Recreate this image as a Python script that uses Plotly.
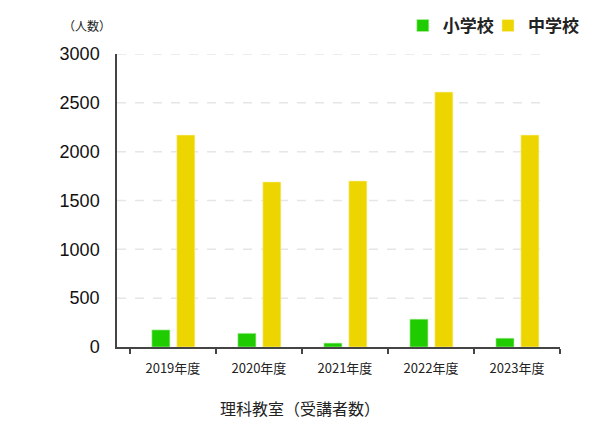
import plotly.graph_objects as go

years = ["2019年度", "2020年度", "2021年度", "2022年度", "2023年度"]
elementary = [175, 140, 40, 285, 90]
junior_high = [2170, 1690, 1700, 2610, 2170]
y_ticks = [0, 500, 1000, 1500, 2000, 2500, 3000]

FONT = "Noto Sans CJK JP"
xpos = list(range(len(years)))

fig = go.Figure()
fig.add_trace(go.Bar(
    x=xpos, y=elementary, name="小学校", marker_color="#1ecc00",
    marker_line=dict(color="#b8f0a8", width=0.6),
    width=0.21, offset=-0.245, legend="legend",
))
fig.add_trace(go.Bar(
    x=xpos, y=junior_high, name="中学校", marker_color="#edd500",
    marker_line=dict(color="#fbf2b0", width=0.6),
    width=0.21, offset=0.045, legend="legend2",
))

shapes = []
for v in y_ticks[1:]:
    shapes.append(dict(type="line", xref="paper", yref="y", x0=0, x1=0.966, y0=v, y1=v,
                       line=dict(color="#e6e6e6", width=1.5, dash="dash"), layer="below"))

legend_style = dict(orientation="h", xanchor="left", xref="container",
                    y=1.0, yanchor="top", yref="container",
                    font=dict(size=17, color="#222222", weight="bold"),
                    itemwidth=30, bgcolor="rgba(0,0,0,0)")

fig.update_layout(
    width=600, height=421,
    margin=dict(l=109, r=48, t=46, b=82, autoexpand=False),
    paper_bgcolor="white", plot_bgcolor="white",
    font=dict(family=FONT, color="#222222"),
    barmode="overlay",
    showlegend=True,
    legend=dict(x=0.658, **legend_style),
    legend2=dict(x=0.8, **legend_style),
    shapes=shapes,
    xaxis=dict(
        range=[-0.65, 4.5],
        tickmode="array", tickvals=xpos, ticktext=years,
        ticks="", showgrid=False, zeroline=False,
        showline=True, linecolor="#444444", linewidth=1.5,
        tickfont=dict(size=13, color="#222222"),
        ticklabelstandoff=9,
        minor=dict(tick0=0.5, dtick=1, ticks="outside", ticklen=5, tickcolor="#444444",
                   tickwidth=1.5, showgrid=False),
    ),
    yaxis=dict(
        range=[0, 3000],
        tickmode="array", tickvals=y_ticks,
        showgrid=False, zeroline=False, ticks="",
        showline=True, linecolor="#444444", linewidth=1.5,
        tickfont=dict(size=18, color="#111111", family="Liberation Sans"),
        ticklabelstandoff=12,
    ),
    annotations=[
        dict(text="（人数）", xref="paper", yref="paper", x=-0.01, y=1.06,
             xanchor="right", yanchor="bottom", showarrow=False,
             font=dict(size=12, color="#222222")),
        dict(text="理科教室（受講者数）", xref="paper", yref="paper", x=0.413, y=0,
             xanchor="center", yanchor="top", yshift=-47, showarrow=False,
             font=dict(size=16, color="#222222")),
    ],
)

fig.write_html("out.html")
